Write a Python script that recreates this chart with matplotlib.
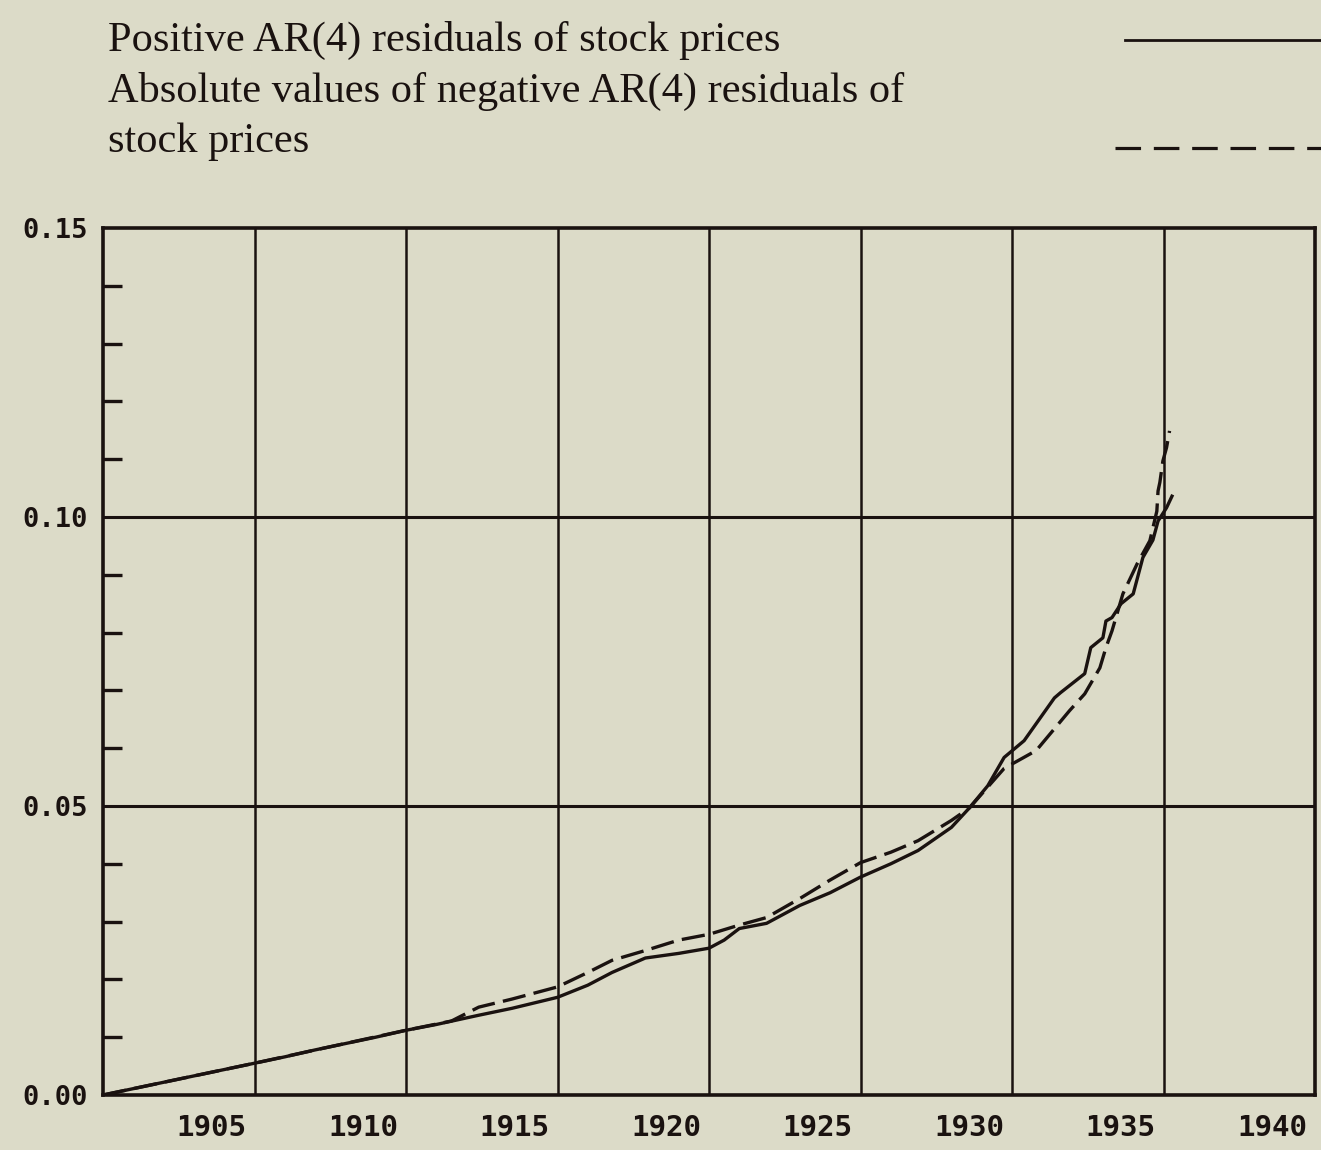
import matplotlib
matplotlib.use("Agg")
import matplotlib.pyplot as plt
import matplotlib.transforms as mtransforms
from matplotlib.ticker import MultipleLocator

# ---- data ----
pos_years = [1900.0, 1902.0, 1904.0, 1905.0, 1906.0, 1907.0, 1908.0, 1909.0, 1910.0,
             1911.0, 1912.4, 1913.5, 1915.0, 1916.0, 1916.8, 1917.9, 1919.0, 1920.0,
             1920.5, 1921.0, 1921.9, 1923.0, 1924.0, 1925.0, 1926.0, 1926.9, 1928.0,
             1928.6, 1929.2, 1929.74, 1930.4, 1931.4, 1931.6, 1932.4, 1932.6, 1933.0,
             1933.1, 1933.3, 1933.6, 1934.0, 1934.32, 1934.65, 1934.82, 1935.1, 1935.28]
pos_values = [0.0, 0.0022, 0.0044, 0.0055, 0.0066, 0.0078, 0.0089, 0.0100, 0.0112,
              0.0122, 0.0138, 0.0150, 0.0169, 0.0190, 0.0212, 0.0237, 0.0245, 0.0254,
              0.0268, 0.0288, 0.0297, 0.0328, 0.0350, 0.0377, 0.0400, 0.0423, 0.0463,
              0.0497, 0.0535, 0.0584, 0.0613, 0.0687, 0.0696, 0.0729, 0.0774, 0.0791,
              0.0820, 0.0826, 0.0850, 0.0867, 0.0930, 0.0960, 0.0993, 0.1016, 0.1036]

neg_years = [1900.0, 1905.0, 1910.0, 1911.5, 1912.4, 1913.5, 1915.0, 1916.0, 1916.8,
             1917.9, 1919.0, 1920.0, 1921.0, 1921.9, 1923.0, 1924.0, 1925.0, 1926.0,
             1926.9, 1928.0, 1928.6, 1929.74, 1930.8, 1931.9, 1932.4, 1932.9, 1933.1,
             1933.3, 1933.66, 1934.13, 1934.55, 1934.78, 1934.82, 1934.88, 1934.98,
             1935.1, 1935.2]
neg_values = [0.0, 0.0055, 0.0112, 0.0128, 0.0152, 0.0166, 0.0187, 0.0212, 0.0233,
              0.0250, 0.0268, 0.0278, 0.0294, 0.0307, 0.0340, 0.0372, 0.0402, 0.0420,
              0.0440, 0.0475, 0.0497, 0.0565, 0.0596, 0.0665, 0.0694, 0.0739, 0.0774,
              0.0803, 0.0867, 0.0919, 0.0959, 0.1010, 0.1045, 0.1060, 0.1097, 0.1120,
              0.1149]

x_ticks = [1905, 1910, 1915, 1920, 1925, 1930, 1935, 1940]
y_ticks = [0.00, 0.05, 0.10, 0.15]
y_labels = ["0.00", "0.05", "0.10", "0.15"]
legend_lines = ["Positive AR(4) residuals of stock prices",
                "Absolute values of negative AR(4) residuals of",
                "stock prices"]

BG = "#dcdbc8"
INK = "#1a1210"

fig = plt.figure(figsize=(13.21, 11.5), dpi=100, facecolor=BG)
ax = fig.add_axes([103 / 1321, 55 / 1150, (1315 - 103) / 1321, (1095 - 228) / 1150])
ax.set_facecolor(BG)
ax.set_xlim(1900, 1940)
ax.set_ylim(0, 0.15)

for s in ax.spines.values():
    s.set_linewidth(2.6)
    s.set_color(INK)

# grid
for xv in x_ticks[:-1]:
    ax.axvline(xv, color=INK, lw=1.8, zorder=1)
for yv in [0.05, 0.10]:
    ax.axhline(yv, color=INK, lw=2.2, zorder=1)

ax.plot(pos_years, pos_values, color=INK, lw=2.4, zorder=3)
ax.plot(neg_years, neg_values, color=INK, lw=2.4, zorder=3, dashes=(7, 2.5))

# ticks
ax.set_xticks(x_ticks)
ax.set_xticklabels([str(v) for v in x_ticks], family="DejaVu Sans Mono",
                   fontweight="bold", fontsize=21, color=INK)
ax.tick_params(axis="x", length=0, pad=14)
off = mtransforms.ScaledTranslation(-8 / 100, 0, fig.dpi_scale_trans)
for lab in ax.get_xticklabels():
    lab.set_ha("right")
    lab.set_transform(lab.get_transform() + off)

ax.set_yticks(y_ticks)
ax.set_yticklabels(y_labels, family="DejaVu Sans Mono", fontweight="bold",
                   fontsize=19.5, color=INK)
ax.tick_params(axis="y", which="major", length=0, pad=11)
ax.yaxis.set_minor_locator(MultipleLocator(0.01))
ax.tick_params(axis="y", which="minor", direction="in", length=14, width=2.4,
               color=INK)

# legend (header)
for txt, yc in zip(legend_lines, [40, 91, 142]):
    fig.text(108 / 1321, 1 - yc / 1150, txt, family="Liberation Serif",
             fontsize=30.5, color=INK, va="center", ha="left")
fig.add_artist(plt.Line2D([1125 / 1321, 1.0], [1 - 40 / 1150, 1 - 40 / 1150],
                          color=INK, lw=2.0, transform=fig.transFigure))
fig.add_artist(plt.Line2D([1115 / 1321, 1.0], [1 - 148 / 1150, 1 - 148 / 1150],
                          color=INK, lw=2.3, dashes=(8, 4), transform=fig.transFigure))

fig.savefig("out.png", dpi=100, facecolor=BG)
